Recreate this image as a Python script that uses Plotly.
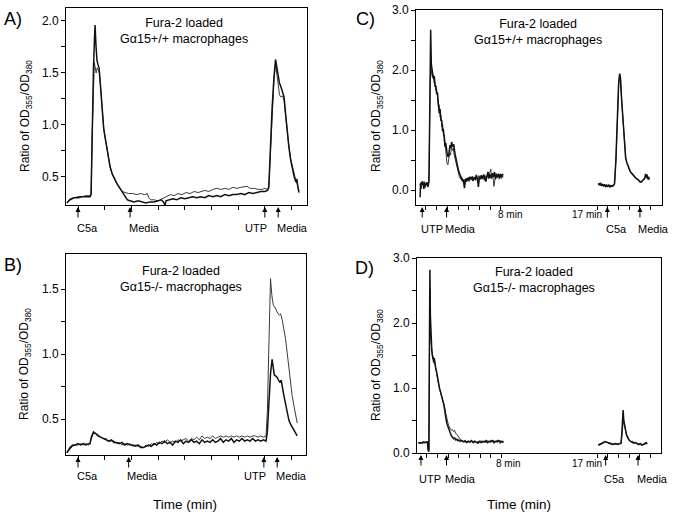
import plotly.graph_objects as go

# ---- data: [time (min), ratio] ----
A_thick = [[-0.42,0.25],[-0.3,0.28],[-0.15,0.30],[0.0,0.30],[0.15,0.31],[0.3,0.31],[0.45,0.31],[0.49,0.33],[0.53,0.95],[0.58,1.55],[0.62,1.85],[0.64,1.96],[0.67,1.78],[0.71,1.62],[0.75,1.58],[0.79,1.55],[0.83,1.42],[0.87,1.25],[0.91,1.08],[0.96,0.97],[1.01,0.89],[1.07,0.80],[1.13,0.70],[1.2,0.60],[1.28,0.53],[1.36,0.48],[1.45,0.44],[1.55,0.40],[1.65,0.36],[1.75,0.31],[1.85,0.28],[1.95,0.27],[2.1,0.26],[2.25,0.27],[2.4,0.26],[2.55,0.25],[2.7,0.26],[2.85,0.26],[3.0,0.27],[3.12,0.28],[3.2,0.26],[3.26,0.23],[3.3,0.27],[3.4,0.28],[3.55,0.29],[3.7,0.28],[3.85,0.30],[4.0,0.29],[4.15,0.30],[4.3,0.31],[4.45,0.30],[4.6,0.31],[4.75,0.30],[4.9,0.32],[5.05,0.31],[5.2,0.32],[5.35,0.31],[5.5,0.33],[5.65,0.32],[5.8,0.33],[5.95,0.33],[6.1,0.34],[6.25,0.33],[6.4,0.35],[6.55,0.34],[6.7,0.35],[6.85,0.36],[7.0,0.36],[7.1,0.37],[7.15,0.40],[7.2,0.75],[7.27,1.15],[7.34,1.45],[7.4,1.63],[7.44,1.57],[7.5,1.45],[7.55,1.40],[7.6,1.37],[7.66,1.32],[7.72,1.27],[7.78,1.10],[7.84,0.92],[7.9,0.79],[7.97,0.66],[8.03,0.58],[8.1,0.50],[8.16,0.45],[8.2,0.48],[8.24,0.40],[8.28,0.35]]
A_thin = [[-0.42,0.25],[-0.3,0.29],[-0.15,0.30],[0.0,0.31],[0.15,0.31],[0.3,0.32],[0.45,0.32],[0.49,0.34],[0.53,0.90],[0.57,1.40],[0.61,1.60],[0.64,1.56],[0.68,1.50],[0.72,1.55],[0.76,1.52],[0.8,1.50],[0.84,1.38],[0.88,1.22],[0.92,1.06],[0.97,0.95],[1.02,0.87],[1.08,0.78],[1.14,0.68],[1.21,0.59],[1.29,0.52],[1.37,0.47],[1.46,0.43],[1.56,0.39],[1.66,0.36],[1.76,0.35],[1.9,0.34],[2.05,0.34],[2.2,0.33],[2.35,0.34],[2.5,0.33],[2.6,0.34],[2.65,0.30],[2.72,0.28],[2.85,0.28],[3.0,0.27],[3.15,0.29],[3.3,0.31],[3.46,0.33],[3.6,0.32],[3.75,0.34],[3.9,0.33],[4.05,0.35],[4.2,0.34],[4.35,0.36],[4.5,0.35],[4.6,0.36],[4.75,0.37],[4.9,0.36],[5.05,0.38],[5.2,0.39],[5.35,0.38],[5.5,0.39],[5.65,0.38],[5.8,0.40],[5.95,0.39],[6.1,0.40],[6.25,0.41],[6.34,0.41],[6.45,0.39],[6.6,0.39],[6.75,0.38],[6.9,0.38],[7.0,0.39],[7.1,0.38],[7.15,0.41],[7.2,0.72],[7.27,1.10],[7.34,1.42],[7.4,1.59],[7.44,1.52],[7.5,1.38],[7.55,1.29],[7.6,1.27],[7.66,1.28],[7.72,1.24],[7.78,1.08],[7.84,0.92],[7.9,0.80],[7.97,0.67],[8.03,0.60],[8.1,0.52],[8.16,0.47],[8.2,0.44],[8.24,0.41],[8.28,0.37]]

B_thick = [[-0.42,0.24],[-0.3,0.28],[-0.2,0.30],[-0.1,0.30],[0.0,0.31],[0.1,0.30],[0.2,0.31],[0.3,0.30],[0.4,0.31],[0.45,0.31],[0.5,0.36],[0.58,0.40],[0.65,0.39],[0.75,0.37],[0.85,0.36],[0.95,0.35],[1.05,0.34],[1.15,0.33],[1.25,0.34],[1.35,0.32],[1.45,0.32],[1.55,0.31],[1.65,0.32],[1.75,0.30],[1.85,0.31],[1.95,0.30],[2.05,0.30],[2.15,0.29],[2.25,0.30],[2.35,0.28],[2.45,0.28],[2.55,0.29],[2.65,0.30],[2.75,0.29],[2.85,0.31],[2.95,0.30],[3.05,0.32],[3.15,0.31],[3.25,0.33],[3.35,0.31],[3.45,0.32],[3.55,0.30],[3.65,0.33],[3.75,0.32],[3.85,0.34],[3.95,0.31],[4.05,0.33],[4.15,0.32],[4.25,0.34],[4.35,0.32],[4.45,0.33],[4.55,0.31],[4.65,0.34],[4.75,0.32],[4.85,0.33],[4.95,0.32],[5.05,0.34],[5.15,0.32],[5.25,0.33],[5.35,0.35],[5.45,0.32],[5.55,0.34],[5.65,0.33],[5.75,0.35],[5.85,0.32],[5.95,0.34],[6.05,0.33],[6.15,0.35],[6.25,0.33],[6.35,0.34],[6.45,0.33],[6.55,0.35],[6.65,0.33],[6.75,0.34],[6.85,0.33],[6.95,0.34],[7.05,0.33],[7.1,0.40],[7.16,0.62],[7.22,0.85],[7.28,0.96],[7.32,0.88],[7.36,0.84],[7.42,0.83],[7.47,0.82],[7.52,0.80],[7.58,0.78],[7.62,0.80],[7.66,0.74],[7.72,0.68],[7.78,0.62],[7.85,0.55],[7.91,0.49],[7.97,0.46],[8.03,0.44],[8.09,0.42],[8.15,0.40],[8.19,0.38],[8.22,0.37]]
B_thin = [[-0.42,0.24],[-0.3,0.27],[-0.2,0.29],[-0.1,0.30],[0.0,0.30],[0.1,0.31],[0.2,0.30],[0.3,0.31],[0.4,0.30],[0.45,0.31],[0.5,0.35],[0.58,0.39],[0.65,0.39],[0.75,0.38],[0.85,0.36],[0.95,0.35],[1.05,0.35],[1.15,0.33],[1.25,0.33],[1.35,0.33],[1.45,0.31],[1.55,0.32],[1.65,0.30],[1.75,0.31],[1.85,0.30],[1.95,0.31],[2.05,0.29],[2.15,0.30],[2.25,0.29],[2.35,0.29],[2.45,0.28],[2.55,0.30],[2.65,0.29],[2.75,0.31],[2.85,0.30],[2.95,0.32],[3.05,0.31],[3.15,0.33],[3.25,0.32],[3.35,0.34],[3.45,0.32],[3.55,0.33],[3.65,0.32],[3.75,0.34],[3.85,0.33],[3.95,0.34],[4.05,0.35],[4.15,0.33],[4.25,0.35],[4.35,0.34],[4.45,0.36],[4.55,0.34],[4.65,0.37],[4.75,0.35],[4.85,0.36],[4.95,0.35],[5.05,0.37],[5.15,0.35],[5.25,0.36],[5.35,0.37],[5.45,0.36],[5.55,0.37],[5.65,0.36],[5.75,0.37],[5.85,0.36],[5.95,0.37],[6.05,0.36],[6.15,0.37],[6.25,0.36],[6.35,0.37],[6.45,0.36],[6.55,0.37],[6.65,0.37],[6.75,0.36],[6.85,0.37],[6.95,0.36],[7.05,0.37],[7.1,0.55],[7.15,1.00],[7.19,1.40],[7.22,1.58],[7.27,1.45],[7.32,1.38],[7.38,1.36],[7.44,1.33],[7.5,1.31],[7.55,1.30],[7.6,1.31],[7.66,1.26],[7.72,1.20],[7.78,1.12],[7.85,1.00],[7.91,0.88],[7.97,0.76],[8.03,0.68],[8.1,0.60],[8.16,0.53],[8.22,0.47]]

C_thick_utp = [[0.45,-0.12],[0.5,0.12],[0.6,0.10],[0.7,0.14],[0.8,0.02],[0.9,0.12],[1.0,0.08],[1.1,0.13],[1.2,0.05],[1.28,0.15],[1.35,1.2],[1.44,2.67],[1.5,2.1],[1.55,2.0],[1.62,1.95],[1.7,1.85],[1.78,1.9],[1.85,1.72],[1.93,1.74],[2.0,1.6],[2.08,1.62],[2.15,1.45],[2.24,1.28],[2.32,1.35],[2.4,1.15],[2.47,1.17],[2.55,0.98],[2.62,1.02],[2.7,0.85],[2.78,0.72],[2.85,0.78],[2.93,0.62],[3.0,0.58],[3.09,0.55],[3.17,0.65],[3.25,0.75],[3.32,0.70],[3.4,0.80],[3.5,0.72],[3.6,0.76],[3.7,0.62],[3.8,0.55],[3.87,0.48],[3.95,0.40],[4.05,0.32],[4.18,0.26],[4.3,0.20],[4.4,0.15],[4.49,0.17],[4.6,0.03],[4.7,0.18],[4.8,0.14],[4.9,0.20],[5.0,0.16],[5.1,0.22],[5.2,0.18],[5.3,0.22],[5.4,0.15],[5.5,0.21],[5.6,0.17],[5.7,0.25],[5.8,0.20],[5.9,0.05],[6.0,0.22],[6.1,0.18],[6.2,0.24],[6.3,0.19],[6.4,0.26],[6.5,0.21],[6.6,0.14],[6.7,0.23],[6.8,0.30],[6.9,0.20],[7.0,0.26],[7.1,0.19],[7.2,0.28],[7.3,0.22],[7.4,0.30],[7.5,0.18],[7.6,0.26],[7.7,0.22],[7.8,0.27],[7.9,0.20],[8.0,0.26],[8.1,0.22],[8.2,0.27]]
C_thin_utp = [[0.45,0.10],[0.55,0.02],[0.65,0.15],[0.75,0.10],[0.85,0.14],[0.95,0.04],[1.05,0.12],[1.15,0.09],[1.25,0.12],[1.3,0.40],[1.38,1.6],[1.45,2.2],[1.52,1.95],[1.6,1.88],[1.68,1.92],[1.76,1.78],[1.84,1.80],[1.92,1.66],[2.0,1.68],[2.08,1.52],[2.16,1.40],[2.24,1.42],[2.32,1.22],[2.4,1.25],[2.48,1.06],[2.56,1.10],[2.64,0.90],[2.72,0.92],[2.8,0.70],[2.88,0.55],[2.96,0.45],[3.05,0.42],[3.14,0.50],[3.22,0.62],[3.3,0.58],[3.38,0.72],[3.46,0.66],[3.55,0.70],[3.65,0.58],[3.75,0.50],[3.85,0.42],[3.93,0.33],[4.02,0.28],[4.12,0.22],[4.25,0.18],[4.35,0.22],[4.45,0.14],[4.55,0.18],[4.65,0.12],[4.75,0.20],[4.85,0.16],[4.95,0.21],[5.05,0.14],[5.15,0.20],[5.25,0.17],[5.35,0.23],[5.45,0.18],[5.55,0.22],[5.65,0.16],[5.75,0.21],[5.85,0.18],[5.95,0.24],[6.05,0.20],[6.15,0.25],[6.25,0.18],[6.35,0.22],[6.45,0.16],[6.55,0.24],[6.65,0.20],[6.75,0.24],[6.85,0.19],[6.95,0.28],[7.05,0.35],[7.15,0.20],[7.25,0.25],[7.35,0.06],[7.45,0.22],[7.55,0.28],[7.65,0.20],[7.75,0.24],[7.85,0.18],[7.95,0.27],[8.05,0.19],[8.15,0.24],[8.2,0.21]]
C_thick_c5a = [[17.1,0.11],[17.2,0.08],[17.3,0.12],[17.4,0.07],[17.5,0.10],[17.6,0.06],[17.7,0.09],[17.8,0.05],[17.9,0.08],[18.0,0.06],[18.1,0.08],[18.2,0.05],[18.3,0.07],[18.4,0.06],[18.5,0.07],[18.62,0.10],[18.75,0.5],[18.88,1.2],[19.0,1.75],[19.1,1.94],[19.18,1.86],[19.27,1.55],[19.36,1.30],[19.46,1.00],[19.56,0.72],[19.66,0.54],[19.76,0.46],[19.86,0.40],[19.96,0.36],[20.06,0.32],[20.16,0.29],[20.26,0.27],[20.36,0.25],[20.46,0.22],[20.56,0.21],[20.66,0.19],[20.76,0.18],[20.86,0.16],[20.96,0.14],[21.06,0.13],[21.16,0.14],[21.26,0.16],[21.36,0.18],[21.46,0.20],[21.52,0.27],[21.58,0.22],[21.64,0.25],[21.72,0.18],[21.8,0.22],[21.87,0.17]]
C_thin_c5a = [[17.1,0.09],[17.25,0.11],[17.35,0.07],[17.45,0.10],[17.55,0.08],[17.65,0.10],[17.75,0.07],[17.85,0.09],[17.95,0.06],[18.05,0.09],[18.15,0.06],[18.25,0.08],[18.35,0.05],[18.45,0.08],[18.55,0.07],[18.64,0.12],[18.77,0.55],[18.9,1.25],[19.02,1.78],[19.11,1.92],[19.19,1.84],[19.28,1.52],[19.37,1.27],[19.47,0.98],[19.57,0.70],[19.67,0.53],[19.77,0.47],[19.87,0.41],[19.97,0.35],[20.07,0.33],[20.17,0.28],[20.27,0.28],[20.37,0.24],[20.47,0.23],[20.57,0.20],[20.67,0.20],[20.77,0.17],[20.87,0.17],[20.97,0.13],[21.07,0.14],[21.17,0.13],[21.27,0.17],[21.37,0.17],[21.47,0.22],[21.53,0.24],[21.6,0.20],[21.66,0.26],[21.74,0.19],[21.82,0.21],[21.87,0.19]]

D_thick_utp = [[0.2,0.15],[0.35,0.16],[0.5,0.15],[0.65,0.17],[0.8,0.16],[0.95,0.17],[1.06,0.17],[1.1,0.05],[1.18,0.02],[1.23,1.4],[1.28,2.82],[1.33,2.1],[1.4,1.70],[1.46,1.58],[1.52,1.50],[1.58,1.44],[1.64,1.40],[1.7,1.46],[1.76,1.36],[1.83,1.30],[1.9,1.26],[1.97,1.18],[2.04,1.15],[2.11,1.08],[2.18,1.00],[2.25,0.96],[2.32,0.90],[2.39,0.86],[2.46,0.80],[2.53,0.78],[2.6,0.74],[2.67,0.64],[2.74,0.56],[2.82,0.50],[2.9,0.44],[2.98,0.40],[3.06,0.35],[3.14,0.31],[3.22,0.30],[3.32,0.26],[3.42,0.24],[3.52,0.22],[3.62,0.23],[3.72,0.20],[3.82,0.21],[3.92,0.19],[4.02,0.20],[4.15,0.18],[4.3,0.19],[4.45,0.17],[4.6,0.18],[4.75,0.16],[4.9,0.18],[5.05,0.17],[5.2,0.19],[5.35,0.16],[5.5,0.18],[5.65,0.17],[5.8,0.15],[5.95,0.18],[6.1,0.16],[6.25,0.18],[6.4,0.17],[6.55,0.19],[6.7,0.16],[6.85,0.18],[7.0,0.17],[7.15,0.19],[7.3,0.16],[7.45,0.18],[7.6,0.17],[7.75,0.19],[7.9,0.16],[8.05,0.18],[8.2,0.16]]
D_thin_utp = [[0.2,0.16],[0.35,0.15],[0.5,0.16],[0.65,0.15],[0.8,0.17],[0.95,0.16],[1.06,0.18],[1.12,0.10],[1.2,0.06],[1.25,1.8],[1.29,2.5],[1.34,1.8],[1.42,1.62],[1.48,1.52],[1.54,1.45],[1.6,1.48],[1.66,1.38],[1.72,1.40],[1.8,1.32],[1.88,1.22],[1.96,1.15],[2.04,1.12],[2.12,1.04],[2.2,0.98],[2.28,0.92],[2.36,0.88],[2.44,0.84],[2.52,0.80],[2.6,0.76],[2.68,0.70],[2.76,0.62],[2.84,0.55],[2.92,0.50],[3.0,0.45],[3.1,0.40],[3.2,0.38],[3.3,0.35],[3.4,0.36],[3.5,0.33],[3.6,0.35],[3.7,0.30],[3.8,0.29],[3.9,0.26],[4.0,0.25],[4.1,0.22],[4.2,0.21],[4.3,0.19],[4.45,0.18],[4.6,0.20],[4.75,0.17],[4.9,0.19],[5.05,0.16],[5.2,0.18],[5.35,0.17],[5.5,0.19],[5.65,0.16],[5.8,0.18],[5.95,0.17],[6.1,0.19],[6.25,0.16],[6.4,0.18],[6.55,0.16],[6.7,0.19],[6.85,0.17],[7.0,0.20],[7.15,0.18],[7.3,0.19],[7.45,0.17],[7.6,0.20],[7.75,0.18],[7.9,0.19],[8.05,0.17],[8.2,0.18]]
D_thick_c5a = [[17.1,0.12],[17.3,0.13],[17.5,0.15],[17.7,0.17],[17.9,0.17],[18.1,0.15],[18.3,0.14],[18.5,0.13],[18.7,0.14],[18.9,0.13],[19.1,0.14],[19.25,0.15],[19.32,0.30],[19.38,0.50],[19.44,0.66],[19.5,0.50],[19.58,0.43],[19.66,0.36],[19.76,0.28],[19.88,0.24],[20.0,0.20],[20.15,0.18],[20.3,0.17],[20.45,0.15],[20.6,0.16],[20.75,0.14],[20.9,0.13],[21.05,0.14],[21.2,0.12],[21.35,0.13],[21.5,0.14],[21.6,0.16],[21.7,0.14]]
D_thin_c5a = [[17.1,0.13],[17.3,0.14],[17.5,0.16],[17.7,0.18],[17.9,0.16],[18.1,0.16],[18.3,0.15],[18.5,0.14],[18.7,0.15],[18.9,0.14],[19.1,0.15],[19.25,0.16],[19.33,0.28],[19.4,0.42],[19.46,0.50],[19.52,0.46],[19.6,0.40],[19.68,0.33],[19.78,0.26],[19.9,0.22],[20.02,0.19],[20.17,0.17],[20.32,0.18],[20.47,0.16],[20.62,0.15],[20.77,0.15],[20.92,0.14],[21.07,0.15],[21.22,0.13],[21.37,0.14],[21.5,0.16],[21.6,0.15],[21.7,0.16]]

# ---- labels ----
y_title = "Ratio of OD<sub>355</sub>/OD<sub>380</sub>"
head_A = "Fura-2 loaded<br>G\u03b115+/+ macrophages"
head_B = "Fura-2 loaded<br>G\u03b115-/- macrophages"
ticks_AB = [0, 1, 2, 3, 4, 5, 6, 7, 8]
ticks_CD = [1, 2, 3, 4, 5, 6, 7, 8, 17, 18, 19, 20, 21, 22]
# (time, label, label anchor side)
arrows_A = [(0, "C5a", "left"), (1.95, "Media", "left"), (7.0, "UTP", "right"), (7.5, "Media", "left")]
arrows_B = [(0, "C5a", "left"), (1.9, "Media", "left"), (6.97, "UTP", "right"), (7.47, "Media", "left")]
arrows_C = [(0.65, "UTP", "left"), (2.93, "Media", "left"), (17.95, "C5a", "left"), (21.0, "Media", "left")]
arrows_D = [(0.44, "UTP", "left"), (2.84, "Media", "left"), (17.8, "C5a", "left"), (20.84, "Media", "left")]

FONT = "Arial, Liberation Sans, sans-serif"
W, H = 676, 520


def xs(pts):
    return [p[0] if p else None for p in pts]


def ys(pts):
    return [p[1] if p else None for p in pts]


fig = go.Figure()

panels = [
    ("x", "y", A_thick, A_thin),
    ("x2", "y2", B_thick, B_thin),
    ("x3", "y3", C_thick_utp + [None] + C_thick_c5a, C_thin_utp + [None] + C_thin_c5a),
    ("x4", "y4", D_thick_utp + [None] + D_thick_c5a, D_thin_utp + [None] + D_thin_c5a),
]
for xa, ya, thick, thin in panels:
    fig.add_trace(go.Scatter(x=xs(thin), y=ys(thin), xaxis=xa, yaxis=ya, mode="lines",
                             line=dict(color="#3a3a3a", width=1), hoverinfo="skip"))
    fig.add_trace(go.Scatter(x=xs(thick), y=ys(thick), xaxis=xa, yaxis=ya, mode="lines",
                             line=dict(color="#111111", width=1.5), hoverinfo="skip"))


def px_dom(a, b):
    return [a / W, b / W]


def py_dom(top, bottom):
    return [1 - bottom / H, 1 - top / H]


def xaxis(dom, rng, ticks, anchor):
    return dict(domain=dom, range=rng, tickvals=ticks, showticklabels=False, ticks="outside",
                ticklen=4, tickcolor="black", showline=True, linecolor="black", linewidth=1,
                mirror=True, showgrid=False, zeroline=False, anchor=anchor, automargin=False)


def yaxis(dom, rng, vals, texts, anchor):
    return dict(domain=dom, range=rng, tickvals=vals, ticktext=texts, ticks="outside",
                ticklen=4, tickcolor="black", showline=True, linecolor="black", linewidth=1,
                mirror=True, showgrid=False, zeroline=False, anchor=anchor, automargin=False,
                tickfont=dict(family=FONT, size=12, color="black"))


yv_A = [0.5, 0.75, 1.0, 1.25, 1.5, 1.75, 2.0]
yt_A = ["0.5", "", "1.0", "", "1.5", "", "2.0"]
yv_B = [0.5, 0.75, 1.0, 1.25, 1.5]
yt_B = ["0.5", "", "1.0", "", "1.5"]
yv_CD = [0.0, 0.5, 1.0, 1.5, 2.0, 2.5, 3.0]
yt_CD = ["0.0", "", "1.0", "", "2.0", "", "3.0"]

boxes = {
    "A": (66, 307, 8, 205),
    "B": (66, 306, 254, 455),
    "C": (416, 662, 10, 205),
    "D": (417, 661, 258, 453),
}

fig.update_layout(
    width=W, height=H, autosize=False, margin=dict(l=0, r=0, t=0, b=0),
    paper_bgcolor="white", plot_bgcolor="white", showlegend=False,
    font=dict(family=FONT, color="black"),
    xaxis=xaxis(px_dom(66, 307), [-0.45, 8.58], ticks_AB, "y"),
    yaxis=yaxis(py_dom(8, 205), [0.23, 2.125], yv_A, yt_A, "x"),
    xaxis2=xaxis(px_dom(66, 306), [-0.45, 8.55], ticks_AB, "y2"),
    yaxis2=yaxis(py_dom(254, 455), [0.223, 1.77], yv_B, yt_B, "x2"),
    xaxis3=xaxis(px_dom(416, 662), [0.07, 23.06], ticks_CD, "y3"),
    yaxis3=yaxis(py_dom(10, 205), [-0.25, 3.0], yv_CD, yt_CD, "x3"),
    xaxis4=xaxis(px_dom(417, 661), [0.07, 23.0], ticks_CD, "y4"),
    yaxis4=yaxis(py_dom(258, 453), [0.0, 3.0], yv_CD, yt_CD, "x4"),
)

ann = []


def paper_text(text, x, y, size, angle=0):
    ann.append(dict(text=text, x=x / W, y=1 - y / H, xref="paper", yref="paper",
                    showarrow=False, xanchor="center", yanchor="middle", textangle=angle,
                    font=dict(family=FONT, size=size, color="black")))


# panel letters
paper_text("A)", 13, 19, 18)
paper_text("B)", 13, 265, 18)
paper_text("C)", 365, 19, 18)
paper_text("D)", 364, 268, 18)

# axis titles
paper_text(y_title, 26, 116, 12, -90)
paper_text(y_title, 25, 364, 12, -90)
paper_text(y_title, 377, 116, 12, -90)
paper_text(y_title, 377, 365, 12, -90)
paper_text("Time (min)", 185, 504, 13.5)
paper_text("Time (min)", 519, 504, 13.5)

# in-panel headings
paper_text(head_A, 184, 31, 12.5)
paper_text(head_B, 181, 279, 12.5)
paper_text(head_A, 538, 32, 12.5)
paper_text(head_B, 534, 280, 12.5)

# time break labels
paper_text("8 min", 510, 214, 10)
paper_text("17 min", 587, 214, 10)
paper_text("8 min", 508, 463, 10)
paper_text("17 min", 587, 463, 10)

# treatment arrows and their labels
for xa, ya, arrows, key, gap in [("x", "y", arrows_A, "A", 23), ("x2", "y2", arrows_B, "B", 21),
                                 ("x3", "y3", arrows_C, "C", 24), ("x4", "y4", arrows_D, "D", 26)]:
    top, bottom = boxes[key][2], boxes[key][3]
    h = bottom - top
    for t, lab, side in arrows:
        ann.append(dict(text="", x=t, y=-2 / h, xref=xa, yref=ya + " domain",
                        showarrow=True, arrowhead=2, arrowsize=1, arrowwidth=1,
                        arrowcolor="black", ax=0, ay=12, standoff=0))
        ann.append(dict(text=lab, x=t, y=-gap / h, xref=xa, yref=ya + " domain",
                        showarrow=False, xanchor=side, yanchor="middle",
                        xshift=-3.5 if side == "left" else 4,
                        font=dict(family=FONT, size=11, color="black")))

fig.update_layout(annotations=ann)
fig.write_html("out.html", config={"displayModeBar": False},
               post_script="document.body.style.margin='0';")
